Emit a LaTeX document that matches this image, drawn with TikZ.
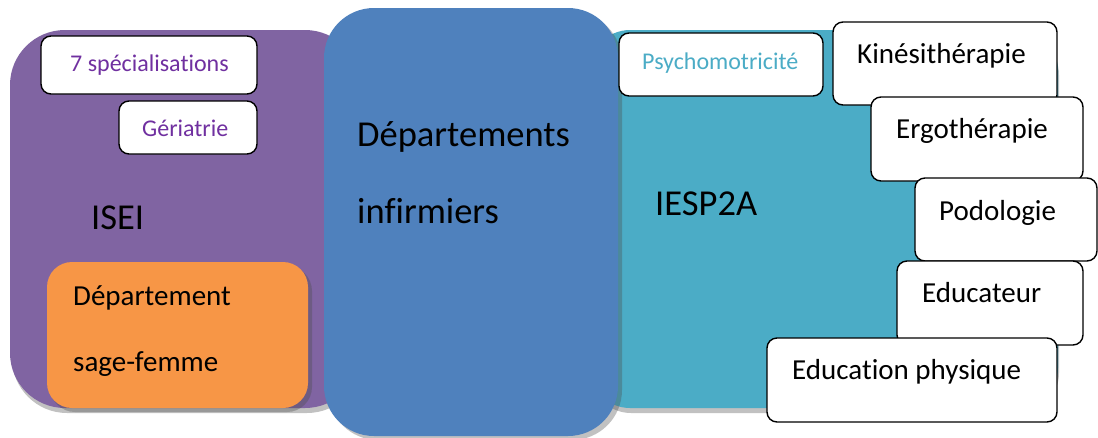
\documentclass[tikz,border=0pt]{standalone}
\usepackage{fontspec}
\setmainfont{Carlito}[Ligatures={NoCommon}]
\definecolor{isei}{HTML}{8064A2}
\definecolor{dept}{HTML}{4F81BD}
\definecolor{iesp}{HTML}{4BACC6}
\definecolor{sage}{HTML}{F79646}
\definecolor{violettext}{HTML}{7030A0}
\tikzset{
  shade box/.style={fill=black!70, opacity=0.35},
  tag/.style={draw=black, line width=1.4pt, fill=white, rounded corners=10pt},
  lbl/.style={inner sep=0pt, anchor=base west},
  smalltxt/.style={lbl, font=\fontsize{24}{28}\selectfont},
  midtxt/.style={lbl, font=\fontsize{29}{34}\selectfont},
  bigtxt/.style={lbl, font=\fontsize{36.5}{42}\selectfont},
}
\begin{document}
\begin{tikzpicture}[x=1pt,y=-1pt]
\useasboundingbox (0,0) rectangle (1098,437);

% ISEI panel
\fill[shade box, rounded corners=55pt] (12,35) rectangle (362,413);
\fill[isei, rounded corners=55pt] (10,30) rectangle (360,408);

% IESP2A panel
\fill[shade box, rounded corners=40pt] (591,35) rectangle (1059,413);
\fill[iesp, rounded corners=40pt] (590,30) rectangle (1058,408);

% Nursing departments panel
\fill[shade box, rounded corners=50pt] (328,12) rectangle (622,440);
\fill[dept, rounded corners=50pt] (324,8) rectangle (618,436);

% Midwifery department
\fill[shade box, rounded corners=25pt] (50,266) rectangle (312,412);
\fill[sage, rounded corners=25pt] (47,262) rectangle (308,408);

% ISEI tags
\draw[tag] (41,36) rectangle (257,94);
\draw[tag] (119,101) rectangle (257,154);

% IESP2A tags, stacked top to bottom
\draw[tag] (619,33) rectangle (823,96);
\draw[tag] (833,22) rectangle (1057,105);
\draw[tag] (871,97) rectangle (1083,181);
\draw[tag] (915,178) rectangle (1097,261);
\draw[tag] (897,261) rectangle (1083,345);
\draw[tag] (767,338) rectangle (1057,422);

% Labels
\node[smalltxt, text=violettext] (spec) at (70,71) {7 spécialisations};
\node[smalltxt, text=violettext] (geri) at (142,136) {Gériatrie};
\node[bigtxt] (isei) at (91,229) {ISEI};
\node[midtxt] (dep1) at (73,305) {Département};
\node[midtxt] (dep2) at (73,371) {sage-femme};
\node[bigtxt] (inf1) at (357,146) {Départements};
\node[bigtxt] (inf2) at (357,223) {infirmiers};
\node[bigtxt] (iesp) at (655,215) {IESP2A};
\node[smalltxt, text=iesp] (psy) at (642,69) {Psychomotricité};
\node[midtxt] (kine) at (857,63) {Kinésithérapie};
\node[midtxt] (ergo) at (896,138) {Ergothérapie};
\node[midtxt] (podo) at (939,220) {Podologie};
\node[midtxt] (educ) at (922,302) {Educateur};
\node[midtxt] (ephy) at (792,379) {Education physique};
\end{tikzpicture}
\end{document}
